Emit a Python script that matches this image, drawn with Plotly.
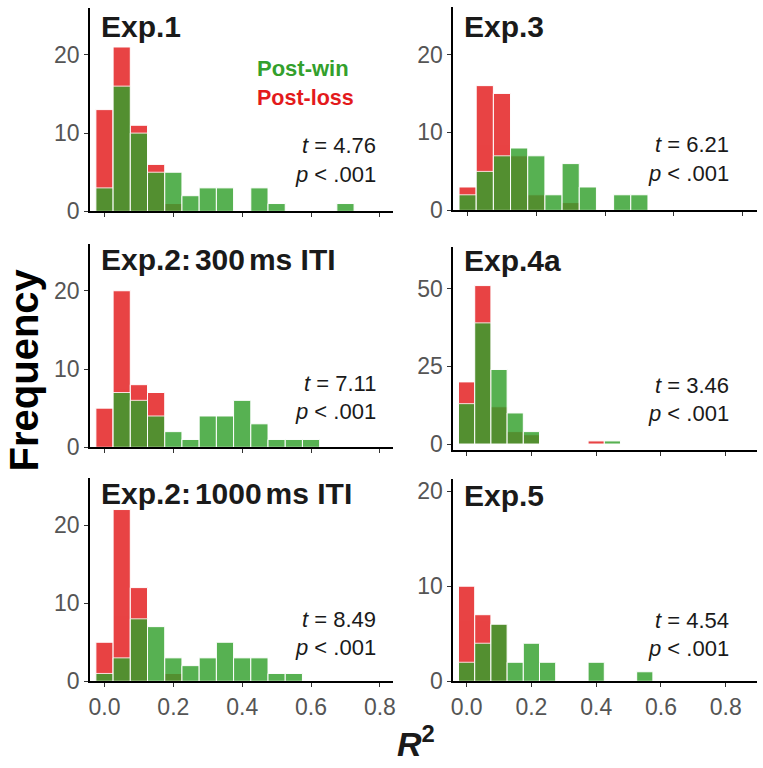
import plotly.graph_objects as go

W, H = 763, 768

# ---- data (counts per R^2 bin; bin centres 0.00, 0.05, ... 0.70) ----
bin_centers = [0.00, 0.05, 0.10, 0.15, 0.20, 0.25, 0.30, 0.35, 0.40, 0.45, 0.50, 0.55, 0.60, 0.65, 0.70]

exp1_loss = [13, 21, 11, 6, 1, 0, 0, 0, 0, 0, 0, 0, 0, 0, 0]
exp1_win = [3, 16, 10, 5, 5, 2, 3, 3, 0, 3, 1, 0, 0, 0, 1]

exp3_loss = [3, 16, 15, 7, 2, 0, 1, 0, 0, 0, 0, 0, 0, 0, 0]
exp3_win = [2, 5, 7, 8, 7, 2, 6, 3, 0, 2, 2, 0, 0, 0, 0]

exp2a_loss = [5, 20, 8, 7, 0, 0, 0, 0, 0, 0, 0, 0, 0, 0, 0]
exp2a_win = [0, 7, 6, 4, 2, 1, 4, 4, 6, 3, 1, 1, 1, 0, 0]

exp4a_loss = [20, 51, 12, 4, 3, 0, 0, 0, 1, 0, 0, 0, 0, 0, 0]
exp4a_win = [13, 39, 24, 10, 4, 0, 0, 0, 0, 1, 0, 0, 0, 0, 0]

exp2b_loss = [5, 22, 12, 0, 1, 0, 0, 0, 0, 0, 0, 0, 0, 0, 0]
exp2b_win = [1, 3, 8, 7, 3, 2, 3, 5, 3, 3, 1, 1, 0, 0, 0]

exp5_loss = [10, 7, 6, 0, 0, 0, 0, 0, 0, 0, 0, 0, 0, 0, 0]
exp5_win = [2, 4, 6, 2, 4, 2, 0, 0, 2, 0, 0, 1, 0, 0, 0]

THIN = '<span style="font-size:14px"> </span>'
panel_titles = ["Exp.1", "Exp.3", f"Exp.2:{THIN}300{THIN}ms ITI", "Exp.4a",
                f"Exp.2:{THIN}1000{THIN}ms ITI", "Exp.5"]
t_values = ["4.76", "6.21", "7.11", "3.46", "8.49", "4.54"]
x_ticks = [0.0, 0.2, 0.4, 0.6, 0.8]
x_tick_labels = ["0.0", "0.2", "0.4", "0.6", "0.8"]
y_ticks = [[0, 10, 20], [0, 10, 20], [0, 10, 20], [0, 25, 50], [0, 10, 20], [0, 10, 20]]

losses = [exp1_loss, exp3_loss, exp2a_loss, exp4a_loss, exp2b_loss, exp5_loss]
wins = [exp1_win, exp3_win, exp2a_win, exp4a_win, exp2b_win, exp5_win]

RED = "#E31A1C"
GREEN = "#33A02C"
FONT = "Liberation Sans, Arial, Helvetica, sans-serif"

# ---- layout geometry (pixels) ----
# (x0, x1, ytop, ybottom)
boxes = [
    (88, 393, 8, 215), (454, 760, 7, 214),
    (88, 393, 248, 455), (454, 760, 251, 458),
    (88, 393, 486, 693), (454, 760, 487, 693),
]
x_ranges = [[-0.0412, 0.8378], [-0.0413, 0.8425],
            [-0.0412, 0.8378], [-0.0407, 0.8965],
            [-0.0412, 0.8378], [-0.0407, 0.8965]]
y_ranges = [[0, 26.0], [0, 26.1], [0, 26.0], [-2.0, 63.5], [0, 26.07], [0, 21.3]]


def px(x):
    return x / W


def py(y):
    return 1 - y / H


fig = go.Figure()
layout = {}
annotations = []

for i in range(6):
    xa = "x" if i == 0 else f"x{i+1}"
    ya = "y" if i == 0 else f"y{i+1}"
    xl = "xaxis" if i == 0 else f"xaxis{i+1}"
    yl = "yaxis" if i == 0 else f"yaxis{i+1}"
    for counts, col in ((losses[i], RED), (wins[i], GREEN)):
        xs = [c for c, v in zip(bin_centers, counts) if v > 0]
        ys = [v for v in counts if v > 0]
        fig.add_trace(go.Bar(
            x=xs, y=ys, width=0.05, xaxis=xa, yaxis=ya,
            marker=dict(color=col, line=dict(color="white", width=1)),
            opacity=0.82, showlegend=False, hoverinfo="skip"))
    x0, x1, yt, yb = boxes[i]
    bottom_row = i >= 4
    layout[xl] = dict(
        domain=[px(x0), px(x1)], range=x_ranges[i], anchor=ya,
        showline=True, linecolor="black", linewidth=2.2,
        ticks="outside", ticklen=4, tickwidth=1.4, tickcolor="#333333",
        tickvals=x_ticks, ticktext=x_tick_labels, showticklabels=bottom_row,
        tickfont=dict(family=FONT, size=23, color="#555555"),
        showgrid=False, zeroline=False, fixedrange=True)
    layout[yl] = dict(
        domain=[py(yb), py(yt)], range=y_ranges[i], anchor=xa,
        showline=True, linecolor="black", linewidth=2.2,
        ticks="outside", ticklen=4, tickwidth=1.4, tickcolor="#333333",
        tickvals=y_ticks[i], tickfont=dict(family=FONT, size=23, color="#555555"),
        showgrid=False, zeroline=False, fixedrange=True)

    # panel title
    left = i % 2 == 0
    tx = 97 if left else 463
    title_y = [27, 27, 264, 265, 502, 504][i]
    annotations.append(dict(
        x=px(tx), y=py(title_y), xref="paper", yref="paper",
        text=f"<b>{panel_titles[i]}</b>", showarrow=False,
        xanchor="left", yanchor="middle",
        font=dict(family=FONT, size=30, color="#1a1a1a")))
    # stats
    sx = 378 if left else 734
    ty = [148, 147, 390, 392, 630, 631][i]
    annotations.append(dict(
        x=px(sx), y=py(ty), xref="paper", yref="paper",
        text=f"<i>t</i> = {t_values[i]}", showarrow=False,
        xanchor="right", yanchor="middle",
        font=dict(family=FONT, size=22, color="#1a1a1a")))
    annotations.append(dict(
        x=px(sx), y=py(ty + 29), xref="paper", yref="paper",
        text="<i>p</i> < .001", showarrow=False,
        xanchor="right", yanchor="middle",
        font=dict(family=FONT, size=22, color="#1a1a1a")))

# legend-like labels
annotations.append(dict(x=px(254), y=py(70), xref="paper", yref="paper",
                        text="<b>Post-win</b>", showarrow=False, xanchor="left",
                        yanchor="middle", font=dict(family=FONT, size=22, color=GREEN)))
annotations.append(dict(x=px(254), y=py(100), xref="paper", yref="paper",
                        text="<b>Post-loss</b>", showarrow=False, xanchor="left",
                        yanchor="middle", font=dict(family=FONT, size=21.5, color=RED)))

# axis titles
annotations.append(dict(x=px(21), y=py(376), xref="paper", yref="paper",
                        text="<b>Frequency</b>", showarrow=False, textangle=-90,
                        xanchor="center", yanchor="middle",
                        font=dict(family=FONT, size=40, color="black")))
annotations.append(dict(x=px(416), y=py(754), xref="paper", yref="paper",
                        text="<b><i>R</i><sup>2</sup></b>", showarrow=False,
                        xanchor="center", yanchor="middle",
                        font=dict(family=FONT, size=34, color="#1a1a1a")))

fig.update_layout(
    width=W, height=H, margin=dict(l=0, r=0, t=0, b=0),
    paper_bgcolor="white", plot_bgcolor="white",
    barmode="overlay", annotations=annotations, **layout)

fig.write_html("out.html", config={"displayModeBar": False},
               post_script="document.body.style.margin='0px';document.body.style.overflow='hidden';")
